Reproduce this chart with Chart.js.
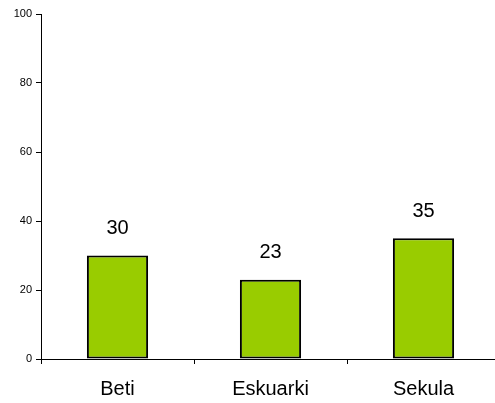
<!DOCTYPE html>
<html>
<head>
<meta charset="utf-8">
<script src="https://cdn.jsdelivr.net/npm/chart.js@4.4.0/dist/chart.umd.min.js"></script>
<style>
html,body{margin:0;padding:0;background:#fff;overflow:hidden;width:495px;height:403px;}
</style>
</head>
<body>
<canvas id="c" width="500" height="403"></canvas>
<script>
const categories = ["Beti", "Eskuarki", "Sekula"];
const values = [30, 23, 35];
const yTicks = [0, 20, 40, 60, 80, 100];

const valueLabels = {
  id: 'valueLabels',
  afterDatasetsDraw(chart) {
    const ctx = chart.ctx;
    const meta = chart.getDatasetMeta(0);
    ctx.save();
    ctx.font = '20px "Liberation Sans", Arial, sans-serif';
    ctx.fillStyle = '#000';
    ctx.textAlign = 'center';
    ctx.textBaseline = 'middle';
    meta.data.forEach((bar, i) => {
      ctx.fillText(String(values[i]), bar.x, bar.y - 27);
    });
    ctx.restore();
  }
};

new Chart(document.getElementById('c'), {
  type: 'bar',
  data: {
    labels: categories,
    datasets: [{
      data: values,
      backgroundColor: '#99cc00',
      borderColor: '#000000',
      borderWidth: 2,
      borderSkipped: false,
      barPercentage: 0.4,
      categoryPercentage: 1.0
    }]
  },
  options: {
    responsive: false,
    animation: false,
    events: [],
    layout: { padding: { top: 14, right: 0, left: 0, bottom: 0 } },
    plugins: { legend: { display: false }, tooltip: { enabled: false } },
    scales: {
      x: {
        grid: { display: true, drawOnChartArea: false, drawTicks: true, tickLength: 5, color: '#000', offset: true },
        border: { display: true, color: '#000', width: 1 },
        ticks: { color: '#000', font: { family: '"Liberation Sans", Arial, sans-serif', size: 20 }, padding: 13, maxRotation: 0 },
        afterFit(scale) { scale.height = 44; }
      },
      y: {
        min: 0, max: 100,
        afterBuildTicks(scale) { scale.ticks = yTicks.map(v => ({ value: v })); },
        grid: { display: true, drawOnChartArea: false, drawTicks: true, tickLength: 5, color: '#000' },
        border: { display: true, color: '#000', width: 1 },
        ticks: { color: '#000', font: { family: '"Liberation Sans", Arial, sans-serif', size: 11 }, padding: 4 },
        afterFit(scale) { scale.width = 41; }
      }
    }
  },
  plugins: [valueLabels]
});
</script>
</body>
</html>
